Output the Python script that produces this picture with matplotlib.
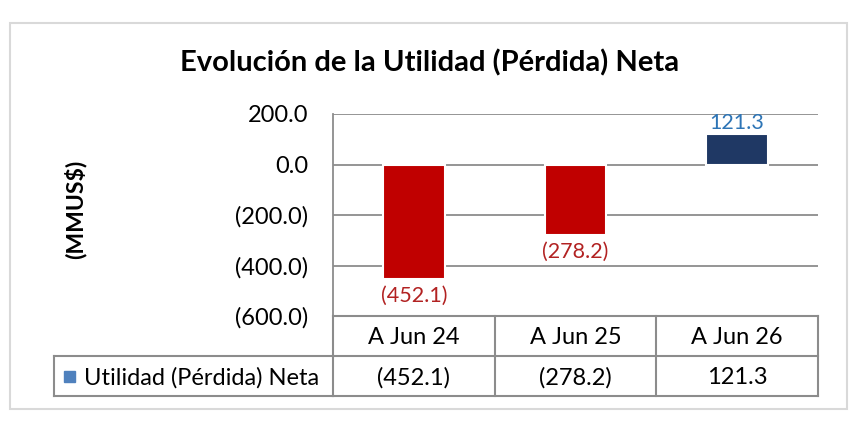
import matplotlib.pyplot as plt
from matplotlib.patches import Rectangle
from matplotlib.transforms import blended_transform_factory

# Datos
categorias = ["A Jun 24", "A Jun 25", "A Jun 26"]
valores = [-452.1, -278.2, 121.3]
serie = "Utilidad (Pérdida) Neta"
ticks_y = [200, 0, -200, -400, -600]


def fmt(v):
    return f"({abs(v):,.1f})" if v < 0 else f"{v:,.1f}"


plt.rcParams["font.family"] = ["Lato", "DejaVu Sans"]
W, H = 860, 428
fig = plt.figure(figsize=(8.6, 4.28), dpi=100)

# marco exterior
fig.add_artist(Rectangle((10 / W, 1 - 409 / H), 837 / W, 386 / H,
                         transform=fig.transFigure, fill=False,
                         edgecolor="#d9d9d9", linewidth=1.5))

left, right, top, bottom = 333, 818, 114, 316
ax = fig.add_axes([left / W, 1 - bottom / H, (right - left) / W, (bottom - top) / H])
x = list(range(len(categorias)))
colores = ["#C00000" if v < 0 else "#1F3864" for v in valores]
ax.bar(x, valores, width=0.38, color=colores, edgecolor="white", linewidth=1.5, zorder=3)
ax.set_xlim(-0.5, len(categorias) - 0.5)
ax.set_ylim(-600, 200)
ax.set_yticks(ticks_y)
ax.set_yticklabels([fmt(t) for t in ticks_y], fontsize=17)
ax.tick_params(axis="y", length=0, pad=18)
ax.set_xticks([])
for t in ticks_y[:-1]:
    ax.axhline(t, color="#8c8c8c", linewidth=1.3, zorder=1)
for s in ["top", "right", "bottom"]:
    ax.spines[s].set_visible(False)
ax.spines["left"].set_color("#8c8c8c")
ax.spines["left"].set_linewidth(1.3)

for xi, v in zip(x, valores):
    if v < 0:
        ax.text(xi, v - 28, fmt(v), ha="center", va="top", fontsize=15.5, color="#B22222")
    else:
        ax.text(xi, v + 2, fmt(v), ha="center", va="bottom", fontsize=15.5, color="#2E75B6")

fig.text(430 / W, 1 - 63 / H, "Evolución de la Utilidad (Pérdida) Neta",
         ha="center", va="center", fontsize=21, fontweight="bold")
fig.text(75 / W, 1 - 209 / H, "(MMUS$)", ha="center", va="center",
         rotation=90, fontsize=16.5, fontweight="bold")

# tabla de datos
tr = blended_transform_factory(ax.transData, fig.transFigure)
y0, y1, y2 = 1 - 316 / H, 1 - 356 / H, 1 - 396 / H
gris = "#8c8c8c"
lw = 1.5
n = len(categorias)
for yy in (y0, y1, y2):
    fig.add_artist(plt.Line2D([-0.5, n - 0.5], [yy, yy], transform=tr, color=gris, lw=lw))
for k in range(n + 1):
    fig.add_artist(plt.Line2D([k - 0.5, k - 0.5], [y0, y2], transform=tr, color=gris, lw=lw))
for xi, cat, v in zip(x, categorias, valores):
    fig.text(xi, (y0 + y1) / 2 - 0.004, cat, transform=tr, ha="center", va="center", fontsize=17)
    fig.text(xi, (y1 + y2) / 2 - 0.004, fmt(v), transform=tr, ha="center", va="center", fontsize=17)

# celda de leyenda
lx = 54 / W
fig.add_artist(plt.Line2D([lx, left / W], [y1, y1], transform=fig.transFigure, color=gris, lw=lw))
fig.add_artist(plt.Line2D([lx, left / W], [y2, y2], transform=fig.transFigure, color=gris, lw=lw))
fig.add_artist(plt.Line2D([lx, lx], [y1, y2], transform=fig.transFigure, color=gris, lw=lw))
fig.add_artist(Rectangle((64 / W, 1 - 382 / H), 11 / W, 11 / H,
                         transform=fig.transFigure, color="#4F81BD"))
fig.text(84 / W, (y1 + y2) / 2 - 0.004, serie, ha="left", va="center", fontsize=17)

fig.savefig("out.png", dpi=100)
